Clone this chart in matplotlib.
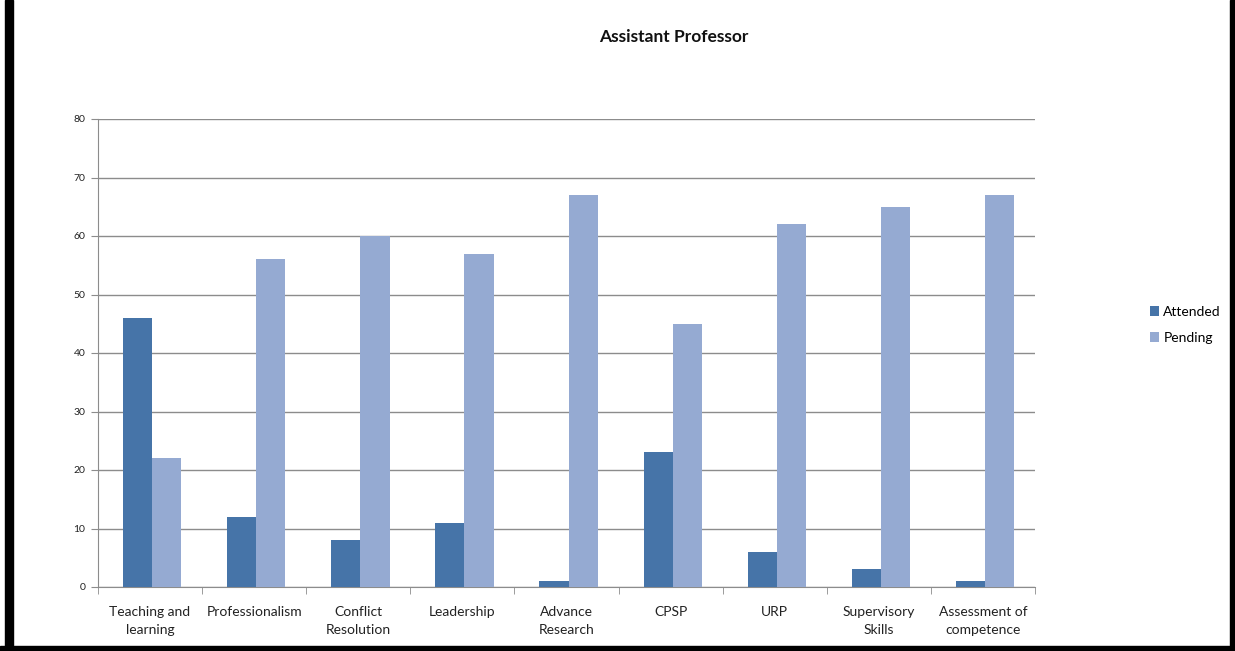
import matplotlib.pyplot as plt
import numpy as np
from matplotlib.patches import Rectangle

plt.rcParams['font.family'] = ['Lato', 'DejaVu Sans']

categories = ["Teaching and\nlearning", "Professionalism", "Conflict\nResolution",
              "Leadership", "Advance\nResearch", "CPSP", "URP",
              "Supervisory\nSkills", "Assessment of\ncompetence"]
attended = [46, 12, 8, 11, 1, 23, 6, 3, 1]
pending = [22, 56, 60, 57, 67, 45, 62, 65, 67]

W, H = 1235, 651
fig = plt.figure(figsize=(W / 100, H / 100), dpi=100)
ax = fig.add_axes([98 / W, 1 - 587 / H, (1035 - 98) / W, (587 - 119) / H])

x = np.arange(len(categories))
bw = 0.28
ax.bar(x - bw / 2 + 0.02, attended, bw, color='#4674A8', label='Attended', zorder=3)
ax.bar(x + bw / 2 + 0.02, pending, bw, color='#95AAD2', label='Pending', zorder=3)

ax.set_xlim(-0.5, len(categories) - 0.5)
ax.set_ylim(0, 80)
ax.set_yticks(range(0, 81, 10))
ax.yaxis.grid(True, color='#8c8c8c', linewidth=1, zorder=0)
ax.set_xticks(x)
ax.set_xticklabels(categories, fontsize=10, color='#222222', linespacing=1.6)
ax.tick_params(axis='x', length=0, pad=14)
ax.set_xticks(np.arange(-0.5, len(categories)), minor=True)
ax.tick_params(axis='x', which='minor', length=5, color='#8c8c8c')
ax.tick_params(axis='y', labelsize=7.5, length=5, color='#8c8c8c', pad=4, labelcolor='#222222')

for s in ['top', 'right']:
    ax.spines[s].set_visible(False)
for s in ['left', 'bottom']:
    ax.spines[s].set_color('#8c8c8c')

fig.text(674 / W, 1 - 37 / H, "Assistant Professor", ha='center', va='center',
         fontsize=12.5, fontweight='bold', color='#111111')

ax.legend(loc='center left', bbox_to_anchor=(1137 / W, 1 - 325 / H),
          bbox_transform=fig.transFigure, frameon=False, fontsize=10,
          handlelength=0.7, handleheight=0.7, handletextpad=0.3, labelspacing=1.0)

# black frame around the screenshot
fig.patches.append(Rectangle((5 / W, 0), 8 / W, 1, transform=fig.transFigure, color='black'))
fig.patches.append(Rectangle((0, 0), 1, 5 / H, transform=fig.transFigure, color='black'))
fig.patches.append(Rectangle((1230 / W, 0), 5 / W, 1, transform=fig.transFigure, color='black'))

fig.savefig("out.png", dpi=100)
